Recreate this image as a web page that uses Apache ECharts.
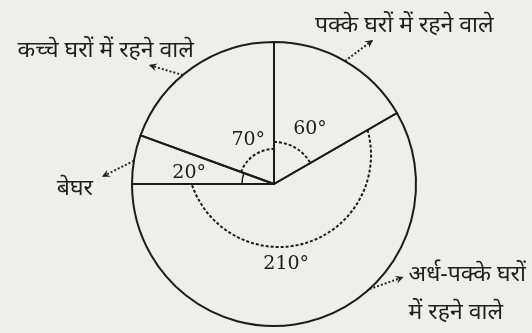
<!DOCTYPE html>
<html>
<head>
<meta charset="utf-8">
<script src="https://cdn.jsdelivr.net/npm/echarts@6/dist/echarts.min.js"></script>
<style>
  html, body { margin: 0; padding: 0; background: #eeeeeb; }
  #chart { width: 532px; height: 333px; }
</style>
</head>
<body>
<div id="chart"></div>
<script>
// slices in clockwise order starting from the top
const categories = ['पक्के घरों में रहने वाले', 'अर्ध-पक्के घरों\nमें रहने वाले', 'बेघर', 'कच्चे घरों में रहने वाले']
const degrees = [60, 210, 20, 70]

const cx = 274
const cy = 184
const R = 142
const ink = '#1c1c1c'
const hindiFont = "'Noto Sans', 'Noto Sans CJK SC', sans-serif"

// degree labels: small hand nudges (dx, dy)
const degNudge = [[-3, 13], [-8, 5], [-8, 3], [19, 20]]

// arrows: where they leave the circle (fraction of the slice) and their vector
const arrowFrac = [0.5, 0.37, 0.47, 0.43]
const arrowVec = [[28, -21], [34, -12], [-32, 16], [-34, -10]]
// name labels relative to the arrow tip: dx, dy, align
const nameOffset = [[-58, -15, 'left'], [5, 16, 'left'], [-9, 12, 'right'], [45, -15, 'right']]

// angle marks drawn around the centre: radius, dashed or not, centre offset
const markRadius = [42, 92, 32, 35]
const markDashed = [true, true, false, true]
const markOffset = [[0, 0], [5, -29], [0, 0], [0, 0]]

const chartDom = document.getElementById('chart')
const myChart = echarts.init(chartDom)

// slice start / end angles (degrees, counter-clockwise from east)
const sliceAngles = []
let cum = 0
degrees.forEach((d) => {
  sliceAngles.push([90 - cum, 90 - cum - d])
  cum += d
})

// where a ray from the pie centre meets a circle around (cx+ox, cy+oy)
function hitAngle(mathDeg, ox, oy, r) {
  const a = mathDeg * Math.PI / 180
  const dx = Math.cos(a)
  const dy = -Math.sin(a)
  const dot = dx * ox + dy * oy
  const t = dot + Math.sqrt(dot * dot - ox * ox - oy * oy + r * r)
  return Math.atan2(t * dy - oy, t * dx - ox)
}

function arrowOf(i) {
  const [a0, a1] = sliceAngles[i]
  const a = (a0 + (a1 - a0) * arrowFrac[i]) * Math.PI / 180
  const start = [cx + R * Math.cos(a), cy - R * Math.sin(a)]
  const tip = [start[0] + arrowVec[i][0], start[1] + arrowVec[i][1]]
  return { start, tip }
}

const marks = []
sliceAngles.forEach(([a0, a1], i) => {
  const [ox, oy] = markOffset[i]
  const s = hitAngle(a0, ox, oy, markRadius[i])
  let e = hitAngle(a1, ox, oy, markRadius[i])
  while (e <= s) e += Math.PI * 2
  marks.push({
    type: 'arc',
    silent: true,
    shape: { cx: cx + ox, cy: cy + oy, r: markRadius[i], startAngle: s, endAngle: e, clockwise: true },
    style: {
      fill: null,
      stroke: ink,
      lineWidth: markDashed[i] ? 2 : 1.5,
      lineDash: markDashed[i] ? [3, 2] : null
    }
  })
})

// arrow heads at the end of the dotted label lines
degrees.forEach((d, i) => {
  const { start, tip } = arrowOf(i)
  const len = Math.hypot(tip[0] - start[0], tip[1] - start[1])
  const ux = (tip[0] - start[0]) / len
  const uy = (tip[1] - start[1]) / len
  const nx = -uy
  const ny = ux
  marks.push({
    type: 'polygon',
    silent: true,
    shape: {
      points: [
        tip,
        [tip[0] - 8 * ux + 4 * nx, tip[1] - 8 * uy + 4 * ny],
        [tip[0] - 5 * ux, tip[1] - 5 * uy],
        [tip[0] - 8 * ux - 4 * nx, tip[1] - 8 * uy - 4 * ny]
      ]
    },
    style: { fill: ink }
  })
})

const option = {
  backgroundColor: '#eeeeeb',
  animation: false,
  graphic: marks,
  series: [
    {
      type: 'pie',
      center: [cx, cy],
      radius: R,
      startAngle: 90,
      clockwise: true,
      silent: true,
      avoidLabelOverlap: false,
      itemStyle: {
        color: 'rgba(0,0,0,0)',
        borderColor: ink,
        borderWidth: 2
      },
      label: {
        show: true,
        position: 'outside',
        color: '#1e1e1e',
        fontFamily: hindiFont,
        fontSize: 23,
        lineHeight: 38,
        formatter: '{b}'
      },
      labelLine: {
        show: true,
        length: 28,
        length2: 0,
        lineStyle: { color: '#2a2a2a', width: 2, type: 'dotted' }
      },
      labelLayout: (p) => {
        const i = p.dataIndex
        const { start, tip } = arrowOf(i)
        return {
          x: tip[0] + nameOffset[i][0],
          y: tip[1] + nameOffset[i][1],
          align: nameOffset[i][2],
          verticalAlign: 'middle',
          labelLinePoints: [start, tip]
        }
      },
      data: categories.map((name, i) => ({ name, value: degrees[i] }))
    },
    {
      type: 'pie',
      center: [cx, cy],
      radius: 150,
      startAngle: 90,
      clockwise: true,
      silent: true,
      itemStyle: { color: 'rgba(0,0,0,0)', borderWidth: 0 },
      label: {
        show: true,
        position: 'inside',
        color: ink,
        fontFamily: 'DejaVu Serif',
        fontSize: 19,
        formatter: '{c}°'
      },
      labelLine: { show: false },
      labelLayout: (p) => ({ dx: degNudge[p.dataIndex][0], dy: degNudge[p.dataIndex][1] }),
      data: categories.map((name, i) => ({ name, value: degrees[i] }))
    }
  ]
}
myChart.setOption(option)

window.addEventListener('resize', () => {
  myChart.resize()
})
</script>
</body>
</html>
